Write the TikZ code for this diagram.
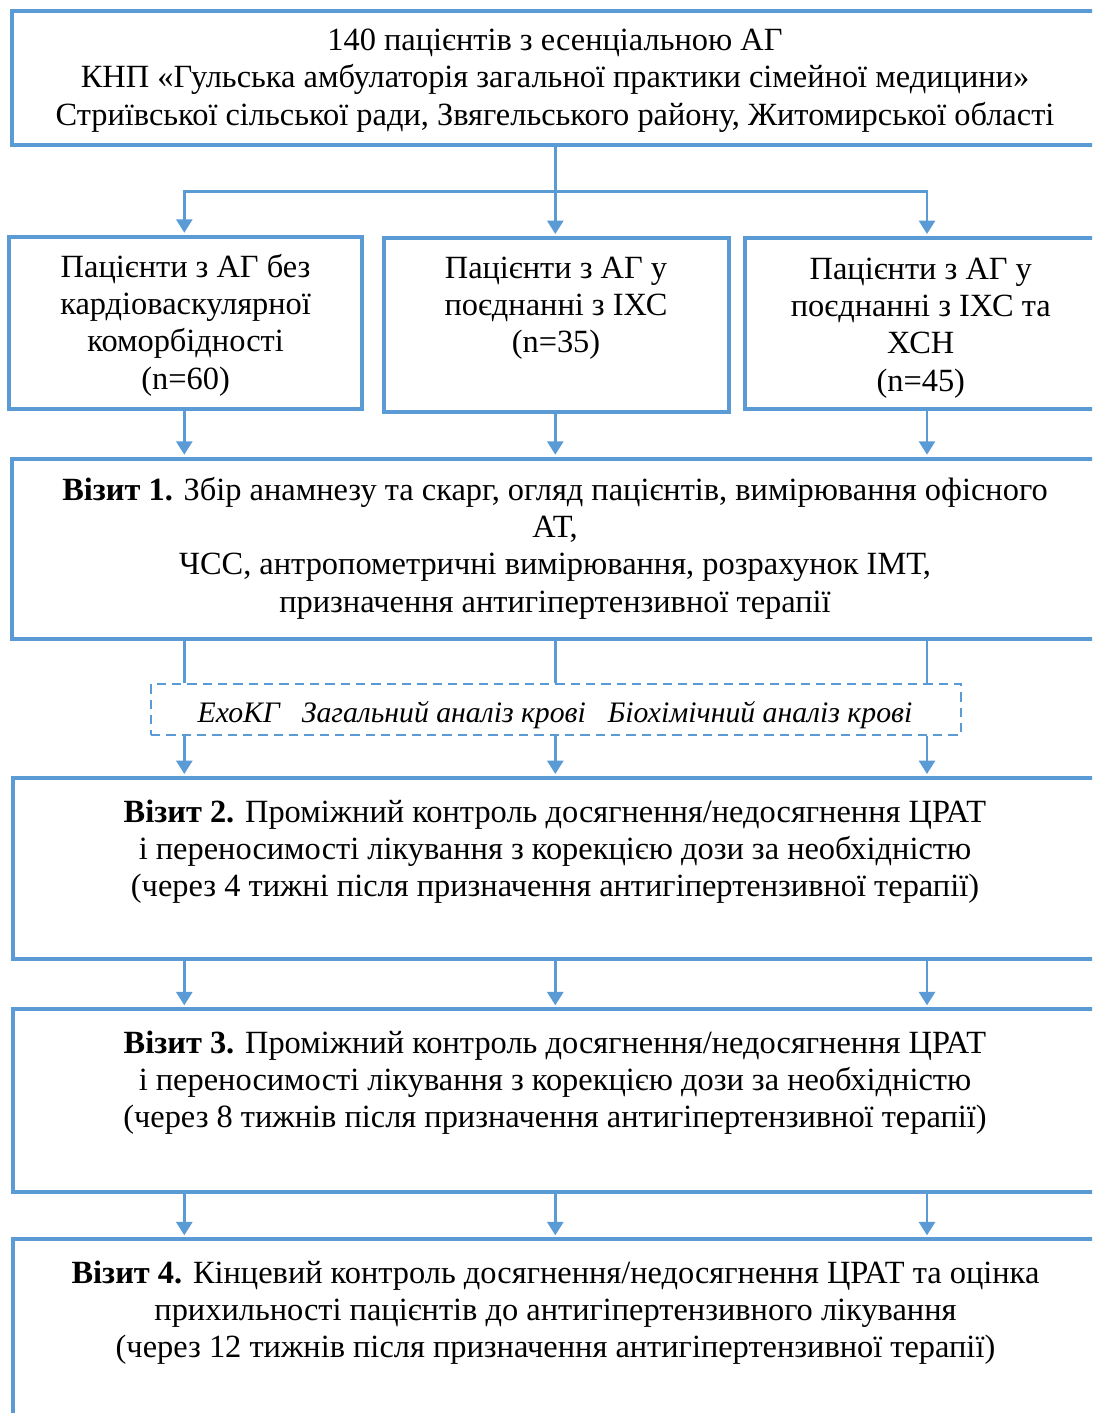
\documentclass[tikz,border=0pt]{standalone}
\usepackage{fontspec}
\setmainfont{Liberation Serif}
\usetikzlibrary{arrows.meta,fit,calc}
\definecolor{wblue}{HTML}{5B9BD5}
\begin{document}
\begin{tikzpicture}[x=0.75pt,y=-0.75pt,
  box/.style={draw=wblue, line width=3pt, inner sep=0pt},
  dbox/.style={draw=wblue, line width=2.1pt, inner sep=0pt, dash pattern=on 7pt off 4.5pt},
  conn/.style={draw=wblue, line width=1.9pt},
  arr/.style={conn, shorten >=1.5pt, -{Triangle[width=12pt,length=10pt]}},
  txt/.style={font=\fontsize{24.3}{28}\selectfont, align=center, inner sep=0pt, anchor=base},
  itxt/.style={font=\fontsize{22.3}{28}\selectfont\itshape, inner sep=0pt, anchor=base}]
\useasboundingbox (0,0) rectangle (1092,1413);
\clip (0,0) rectangle (1092,1413);
\coordinate (colA) at (184.3,0);
\coordinate (colB) at (555.3,0);
\coordinate (colC) at (927,0);
\coordinate (split) at (555.3,191.7);
% boxes
\node[box, fit={(12,11.5)(1100,144.5)}] (top) {};
\node[box, fit={(9.3,236.7)(362,408.7)}] (bA) {};
\node[box, fit={(383.7,238)(728.7,412)}] (bB) {};
\node[box, fit={(744.7,238)(1100,408.7)}] (bC) {};
\node[box, fit={(12,458.7)(1100,638.7)}] (v1) {};
\node[dbox, fit={(151,684)(961,735)}] (dash) {};
\node[box, fit={(12.7,778)(1100,959)}] (v2) {};
\node[box, fit={(12.7,1009.3)(1100,1192)}] (v3) {};
\node[box, fit={(12.7,1239.3)(1100,1470)}] (v4) {};
% texts (anchor = baseline of last line)
\node[txt] (ttop) at (555,125) {140 пацієнтів з есенціальною АГ\\КНП «Гульська амбулаторія загальної практики сімейної медицини»\\Стриївської сільської ради, Звягельського району, Житомирської області};
\node[txt] (tA) at (185.6,389) {Пацієнти з АГ без\\кардіоваскулярної\\коморбідності\\(n=60)};
\node[txt] (tB) at (556,352.7) {Пацієнти з АГ у\\поєднанні з ІХС\\(n=35)};
\node[txt] (tC) at (920.8,391) {Пацієнти з АГ у\\поєднанні з ІХС та\\ХСН\\(n=45)};
\node[txt] (tV1) at (555,612) {\textbf{Візит 1.} Збір анамнезу та скарг, огляд пацієнтів, вимірювання офісного\\АТ,\\ЧСС, антропометричні вимірювання, розрахунок ІМТ,\\призначення антигіпертензивної терапії};
\node[itxt] (tD) at (555,722) {ЕхоКГ\hspace{16.5pt}Загальний аналіз крові\hspace{16.5pt}Біохімічний аналіз крові};
\node[txt] (tV2) at (555,896.7) {\textbf{Візит 2.} Проміжний контроль досягнення/недосягнення ЦРАТ\\і переносимості лікування з корекцією дози за необхідністю\\(через 4 тижні після призначення антигіпертензивної терапії)};
\node[txt] (tV3) at (555,1127.7) {\textbf{Візит 3.} Проміжний контроль досягнення/недосягнення ЦРАТ\\і переносимості лікування з корекцією дози за необхідністю\\(через 8 тижнів після призначення антигіпертензивної терапії)};
\node[txt] (tV4) at (555.5,1357.7) {\textbf{Візит 4.} Кінцевий контроль досягнення/недосягнення ЦРАТ та оцінка\\прихильності пацієнтів до антигіпертензивного лікування\\(через 12 тижнів після призначення антигіпертензивної терапії)};
% connectors
\draw[conn] (top.south -| split) -- (split);
\draw[arr] (split) -- (bB.north -| colB);
\draw[arr] (split) -| (bA.north -| colA);
\draw[arr] (split) -| (bC.north -| colC);
\draw[arr] (bA.south -| colA) -- (v1.north -| colA);
\draw[arr] (bB.south -| colB) -- (v1.north -| colB);
\draw[arr] (bC.south -| colC) -- (v1.north -| colC);
\foreach \c in {colA,colB,colC}{
  \draw[conn] (v1.south -| \c) -- (dash.north -| \c);
  \draw[arr] (dash.south -| \c) -- (v2.north -| \c);
  \draw[arr] (v2.south -| \c) -- (v3.north -| \c);
  \draw[arr] (v3.south -| \c) -- (v4.north -| \c);
}
\end{tikzpicture}
\end{document}
